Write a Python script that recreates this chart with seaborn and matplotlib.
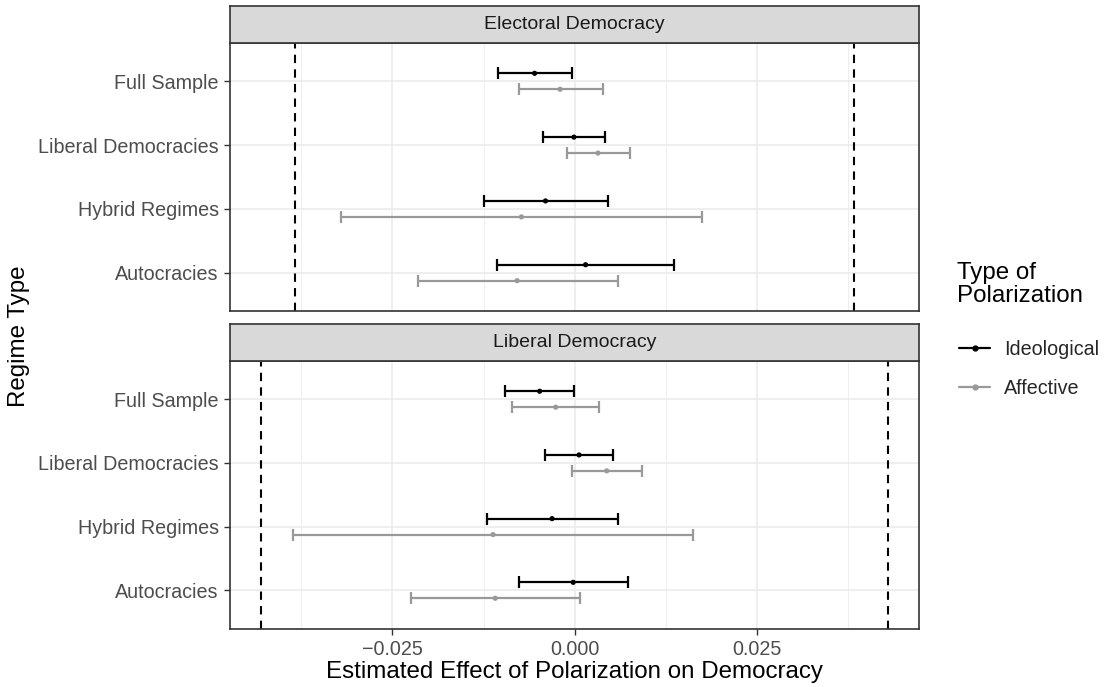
import numpy as np
import pandas as pd
import matplotlib
matplotlib.use("Agg")
import matplotlib.pyplot as plt
from matplotlib.lines import Line2D
import seaborn as sns

# Values
regimes = ["Full Sample", "Liberal Democracies", "Hybrid Regimes", "Autocracies"]
measures = ["Electoral Democracy", "Liberal Democracy"]
pol_types = ["Ideological", "Affective"]

# Electoral Democracy panel
edi_ideo_est = [-0.0055, -0.0001, -0.0040, 0.0015]
edi_ideo_lo = [-0.0105, -0.0044, -0.0125, -0.0106]
edi_ideo_hi = [-0.0004, 0.0042, 0.0046, 0.0136]
edi_aff_est = [-0.0020, 0.0032, -0.0073, -0.0079]
edi_aff_lo = [-0.0077, -0.0011, -0.0320, -0.0215]
edi_aff_hi = [0.0039, 0.0076, 0.0175, 0.0059]

# Liberal Democracy panel
ldi_ideo_est = [-0.0048, 0.0006, -0.0031, -0.0002]
ldi_ideo_lo = [-0.0095, -0.0041, -0.0120, -0.0077]
ldi_ideo_hi = [-0.0001, 0.0053, 0.0060, 0.0073]
ldi_aff_est = [-0.0026, 0.0044, -0.0112, -0.0109]
ldi_aff_lo = [-0.0086, -0.0003, -0.0386, -0.0225]
ldi_aff_hi = [0.0034, 0.0093, 0.0163, 0.0007]

# dashed reference bounds per panel (+/-)
bounds = [0.0384, 0.0430]

x_ticks = [-0.025, 0.0, 0.025]
x_ticklabels = ["\u22120.025", "0.000", "0.025"]

rows = []
blocks = {
    ("Electoral Democracy", "Ideological"): (edi_ideo_est, edi_ideo_lo, edi_ideo_hi),
    ("Electoral Democracy", "Affective"): (edi_aff_est, edi_aff_lo, edi_aff_hi),
    ("Liberal Democracy", "Ideological"): (ldi_ideo_est, ldi_ideo_lo, ldi_ideo_hi),
    ("Liberal Democracy", "Affective"): (ldi_aff_est, ldi_aff_lo, ldi_aff_hi),
}
for (m, t), (est, lo, hi) in blocks.items():
    for i, r in enumerate(regimes):
        rows.append(dict(measure=m, type=t, regime=r, est=est[i], lo=lo[i], hi=hi[i]))
df = pd.DataFrame(rows)

sns.set_theme(style="white")
plt.rcParams["font.family"] = ["Liberation Sans", "DejaVu Sans"]

colors = {"Ideological": "black", "Affective": "#999999"}
dodge = {"Ideological": -0.125, "Affective": 0.125}

fig = plt.figure(figsize=(11.05, 6.87), dpi=100)

left, width = 230 / 1105, 689.3 / 1105
H = 687
panel_px = [(43, 311), (361, 628.5)]
strip_px = [(6, 43), (324, 361)]

border = "#333333"
for k, m in enumerate(measures):
    top, bot = panel_px[k]
    ax = fig.add_axes([left, 1 - bot / H, width, (bot - top) / H])
    st, sb = strip_px[k]
    sax = fig.add_axes([left, 1 - sb / H, width, (sb - st) / H])

    sub = df[df.measure == m].copy()
    sub["ypos"] = sub.regime.map({r: i for i, r in enumerate(regimes)}) + sub.type.map(dodge)

    # grid
    for gx in [-0.0375, -0.0125, 0.0125, 0.0375]:
        ax.axvline(gx, color="#EBEBEB", lw=0.6, zorder=0)
    for gx in x_ticks:
        ax.axvline(gx, color="#EBEBEB", lw=1.2, zorder=0)
    for gy in range(len(regimes)):
        ax.axhline(gy, color="#EBEBEB", lw=1.2, zorder=0)

    for t in pol_types:
        s = sub[sub.type == t]
        ax.errorbar(s.est, s.ypos, xerr=[s.est - s.lo, s.hi - s.est], fmt="none",
                    ecolor=colors[t], elinewidth=1.6, capsize=4, capthick=1.6, zorder=2)
    sns.scatterplot(data=sub, x="est", y="ypos", hue="type", palette=colors,
                    hue_order=pol_types, s=14, linewidth=0, ax=ax, legend=False, zorder=3)

    ax.axvline(-bounds[k], color="black", lw=1.5, ls=(0, (4, 3)), zorder=1)
    ax.axvline(bounds[k], color="black", lw=1.5, ls=(0, (4, 3)), zorder=1)

    ax.set_xlim(-0.0473, 0.0473)
    ax.set_ylim(len(regimes) - 0.4, -0.6)
    ax.set_yticks(range(len(regimes)))
    ax.set_yticklabels(regimes)
    ax.set_xlabel("")
    ax.set_ylabel("")
    ax.tick_params(axis="both", length=4.5, width=1, color=border,
                   labelcolor="#4D4D4D", labelsize=14.2, left=True, bottom=True)
    ax.tick_params(axis="y", pad=3.5)
    if k == 0:
        ax.set_xticks(x_ticks)
        ax.tick_params(axis="x", bottom=False, labelbottom=False)
    else:
        ax.set_xticks(x_ticks)
        ax.set_xticklabels(x_ticklabels)
        ax.set_xlabel("Estimated Effect of Polarization on Democracy", fontsize=17.4, color="black", labelpad=2)
    for sp in ax.spines.values():
        sp.set_color(border)
        sp.set_linewidth(1.2)
        sp.set_visible(True)

    sax.set_facecolor("#D9D9D9")
    sax.set_xticks([])
    sax.set_yticks([])
    for sp in sax.spines.values():
        sp.set_color(border)
        sp.set_linewidth(1.2)
        sp.set_visible(True)
    sax.text(0.5, 0.5, m, ha="center", va="center", fontsize=14, color="#1A1A1A",
             transform=sax.transAxes)

fig.text(19 / 1105, 1 - 336 / H, "Regime Type", rotation=90, ha="center", va="center",
         fontsize=17.4, color="black")

# legend title drawn separately so it sits where the reference has it
fig.text(957 / 1105, 1 - 262 / H, "Type of\nPolarization", ha="left", va="top",
         fontsize=17.4, color="black", linespacing=1.08)
handles = [Line2D([0], [0], color=colors[t], lw=1.6, marker="o", markersize=3.5) for t in pol_types]
fig.legend(handles, pol_types, loc="center left",
           bbox_to_anchor=(941 / 1105, 1 - 369 / H), frameon=False, fontsize=14.2,
           handlelength=1.6, handletextpad=0.7, labelspacing=1.0)

fig.savefig("out.png", dpi=100)
